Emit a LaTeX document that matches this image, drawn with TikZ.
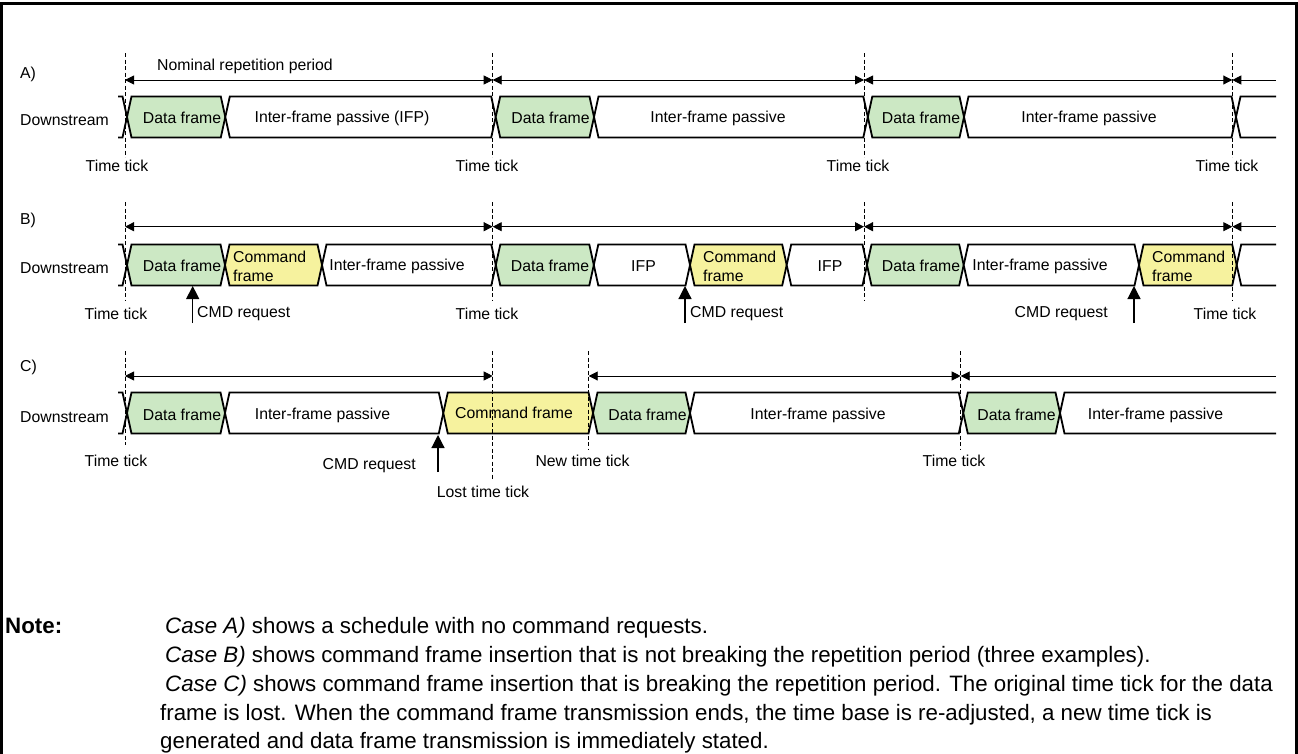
\documentclass[tikz,border=0pt]{standalone}
\usepackage{fontspec}
\setmainfont{Liberation Sans}
\usetikzlibrary{arrows.meta}
\definecolor{dataclr}{RGB}{204,232,196}
\definecolor{cmdclr}{RGB}{246,242,158}
\newcommand\frm[4]{\filldraw[sig,fill=#4] (#1,#3) -- ({#1+4.5},{#3-20.5}) -- ({#2-4.5},{#3-20.5}) -- (#2,#3) -- ({#2-4.5},{#3+20.5}) -- ({#1+4.5},{#3+20.5}) -- cycle;}
\newcommand\stubin[1]{\draw[sig] (118,{#1-20.5}) -- (122.5,{#1-20.5}) -- (127,#1) -- (122.5,{#1+20.5}) -- (118,{#1+20.5});}
\newcommand\stubout[2]{\draw[sig] (1276,{#2-20.5}) -- ({#1+4.5},{#2-20.5}) -- (#1,#2) -- ({#1+4.5},{#2+20.5}) -- (1276,{#2+20.5});}
\begin{document}
\begin{tikzpicture}[x=1pt,y=-1pt,
  sig/.style={line width=1.8pt,line join=miter},
  tickline/.style={line width=0.9pt,dash pattern=on 4pt off 2.5pt},
  period/.style={line width=0.9pt,{Triangle[length=9pt,width=9pt]}-{Triangle[length=9pt,width=9pt]}},
  halfperiod/.style={line width=0.9pt,{Triangle[length=9pt,width=9pt]}-},
  cmdreq/.style={line width=1.2pt,-{Triangle[length=13pt,width=13pt]}},
  lbl/.style={font=\fontsize{15.8}{19.3}\selectfont,inner sep=0pt},
  note/.style={font=\fontsize{22.3}{27}\selectfont,inner sep=0pt,anchor=base west}]
  \path[use as bounding box,clip] (0,0) rectangle (1298,753);
  \draw[line width=2.7pt] (1.5,800) -- (1.5,3.5) -- (1296.5,3.5) -- (1296.5,800);

  \stubin{117}
  \frm{127}{225.3}{117}{dataclr}
  \frm{225.3}{495.7}{117}{white}
  \frm{495.7}{594}{117}{dataclr}
  \frm{594}{867.8}{117}{white}
  \frm{867.8}{964}{117}{dataclr}
  \frm{964}{1236}{117}{white}
  \stubout{1236}{117}
  \foreach \x/\n in {125/1,492.7/2,864/3,1232.3/4} {
    \draw[tickline] (\x,53) -- (\x,157);
    \coordinate (pa\n) at (\x,80);
  }
  \coordinate (pa5) at (1276,80);
  \draw[period] (pa1) -- (pa2);
  \draw[period] (pa2) -- (pa3);
  \draw[period] (pa3) -- (pa4);
  \draw[halfperiod] (pa4) -- (pa5);
  \node[lbl,anchor=west] (capa) at (20,74) {A)};
  \node[lbl] (nrp) at (245,66) {Nominal repetition period};
  \node[lbl,anchor=west] (dsa) at (20,120) {Downstream};
  \node[lbl] (dfa1) at (182,118) {Data frame};
  \node[lbl] (ifpa1) at (342,118) {Inter-frame passive (IFP)};
  \node[lbl] (dfa2) at (550.5,118) {Data frame};
  \node[lbl] (ifpa2) at (718,118) {Inter-frame passive};
  \node[lbl] (dfa3) at (921,118) {Data frame};
  \node[lbl] (ifpa3) at (1089,118) {Inter-frame passive};
  \node[lbl] (tta1) at (117,166) {Time tick};
  \node[lbl] (tta2) at (487,166) {Time tick};
  \node[lbl] (tta3) at (858,166) {Time tick};
  \node[lbl] (tta4) at (1227,166) {Time tick};

  \stubin{265}
  \frm{127}{225}{265}{dataclr}
  \frm{225}{322}{265}{cmdclr}
  \frm{322}{495.8}{265}{white}
  \frm{495.8}{593.8}{265}{dataclr}
  \frm{593.8}{690}{265}{white}
  \frm{690}{786.7}{265}{cmdclr}
  \frm{786.7}{867}{265}{white}
  \frm{867}{963.7}{265}{dataclr}
  \frm{963.7}{1139}{265}{white}
  \frm{1139}{1236.7}{265}{cmdclr}
  \stubout{1236.7}{265}
  \foreach \x/\n in {125/1,492.7/2,864/3,1232.3/4} {
    \draw[tickline] (\x,202) -- (\x,300);
    \coordinate (pb\n) at (\x,226.7);
  }
  \coordinate (pb5) at (1276,226.7);
  \draw[period] (pb1) -- (pb2);
  \draw[period] (pb2) -- (pb3);
  \draw[period] (pb3) -- (pb4);
  \draw[halfperiod] (pb4) -- (pb5);
  \node[lbl,anchor=west] (capb) at (20,220) {B)};
  \node[lbl,anchor=west] (dsb) at (20,268) {Downstream};
  \node[lbl] (dfb1) at (182,266) {Data frame};
  \node[lbl,align=left,anchor=west] (cfb1) at (233,266.5) {Command\\frame};
  \node[lbl] (ifpb1) at (397,266) {Inter-frame passive};
  \node[lbl] (dfb2) at (550,266) {Data frame};
  \node[lbl] (ifpb2) at (643.5,266) {IFP};
  \node[lbl,align=left,anchor=west] (cfb2) at (703,266.5) {Command\\frame};
  \node[lbl] (ifpb3) at (830,266) {IFP};
  \node[lbl] (dfb3) at (921,266) {Data frame};
  \node[lbl] (ifpb4) at (1040,266) {Inter-frame passive};
  \node[lbl,align=left,anchor=west] (cfb3) at (1152,266.5) {Command\\frame};
  \node[lbl] (ttb1) at (116,314) {Time tick};
  \node[lbl] (ttb2) at (487,314) {Time tick};
  \node[lbl] (ttb3) at (1225,314) {Time tick};
  \node[lbl,anchor=west] (crb1) at (197,314) {CMD request};
  \node[lbl,anchor=west] (crb2) at (690,314) {CMD request};
  \node[lbl,anchor=east] (crb3) at (1108,314) {CMD request};
  \coordinate (cb1) at (192.7,323); \coordinate (cb1t) at (192.7,286);
  \coordinate (cb2) at (685,323);   \coordinate (cb2t) at (685,286);
  \coordinate (cb3) at (1134,323);  \coordinate (cb3t) at (1134,286);
  \draw[cmdreq] (cb1) -- (cb1t);
  \draw[cmdreq] (cb2) -- (cb2t);
  \draw[cmdreq] (cb3) -- (cb3t);

  \stubin{413}
  \frm{127}{225}{413}{dataclr}
  \frm{225}{443.3}{413}{white}
  \frm{443.3}{593}{413}{cmdclr}
  \frm{593}{690}{413}{dataclr}
  \frm{690}{963.3}{413}{white}
  \frm{963.3}{1060}{413}{dataclr}
  \stubout{1060}{413}
  \draw[tickline] (125,351) -- (125,445);
  \draw[tickline] (492.7,351) -- (492.7,480);
  \draw[tickline] (588.7,351) -- (588.7,449);
  \draw[tickline] (960.7,351) -- (960.7,449);
  \coordinate (pc1) at (125,376);
  \coordinate (pc2) at (492.7,376);
  \coordinate (pc3) at (588.7,376);
  \coordinate (pc4) at (960.7,376);
  \coordinate (pc5) at (1276,376);
  \draw[period] (pc1) -- (pc2);
  \draw[period] (pc3) -- (pc4);
  \draw[halfperiod] (pc4) -- (pc5);
  \node[lbl,anchor=west] (capc) at (20,367) {C)};
  \node[lbl,anchor=west] (dsc) at (20,417) {Downstream};
  \node[lbl] (dfc1) at (182,415) {Data frame};
  \node[lbl] (ifpc1) at (322.5,415) {Inter-frame passive};
  \node[lbl] (cfc1) at (514,413) {Command frame};
  \node[lbl] (dfc2) at (647.5,415) {Data frame};
  \node[lbl] (ifpc2) at (818,415) {Inter-frame passive};
  \node[lbl] (dfc3) at (1016.5,415) {Data frame};
  \node[lbl] (ifpc3) at (1155.5,415) {Inter-frame passive};
  \node[lbl] (ttc1) at (116,461) {Time tick};
  \node[lbl,anchor=east] (crc1) at (416,466) {CMD request};
  \node[lbl] (ltt) at (483,492) {Lost time tick};
  \node[lbl] (ntt) at (582.5,461) {New time tick};
  \node[lbl] (ttc2) at (954,461) {Time tick};
  \coordinate (cc1) at (438,472); \coordinate (cc1t) at (438,435);
  \draw[cmdreq] (cc1) -- (cc1t);

  \node[note,font=\fontsize{22.3}{27}\selectfont\bfseries] (notehd) at (5,633) {Note:};
  \node[note] (note1) at (165,633) {\textit{Case A)} shows a schedule with no command requests.};
  \node[note] (note2) at (165,662) {\textit{Case B)} shows command frame insertion that is not breaking the repetition period (three examples).};
  \node[note] (note3) at (165,691) {\textit{Case C)} shows command frame insertion that is breaking the repetition period. The original time tick for the data};
  \node[note] (note4) at (160,720) {frame is lost. When the command frame transmission ends, the time base is re-adjusted, a new time tick is};
  \node[note] (note5) at (160,748.5) {generated and data frame transmission is immediately stated.};
\end{tikzpicture}
\end{document}
